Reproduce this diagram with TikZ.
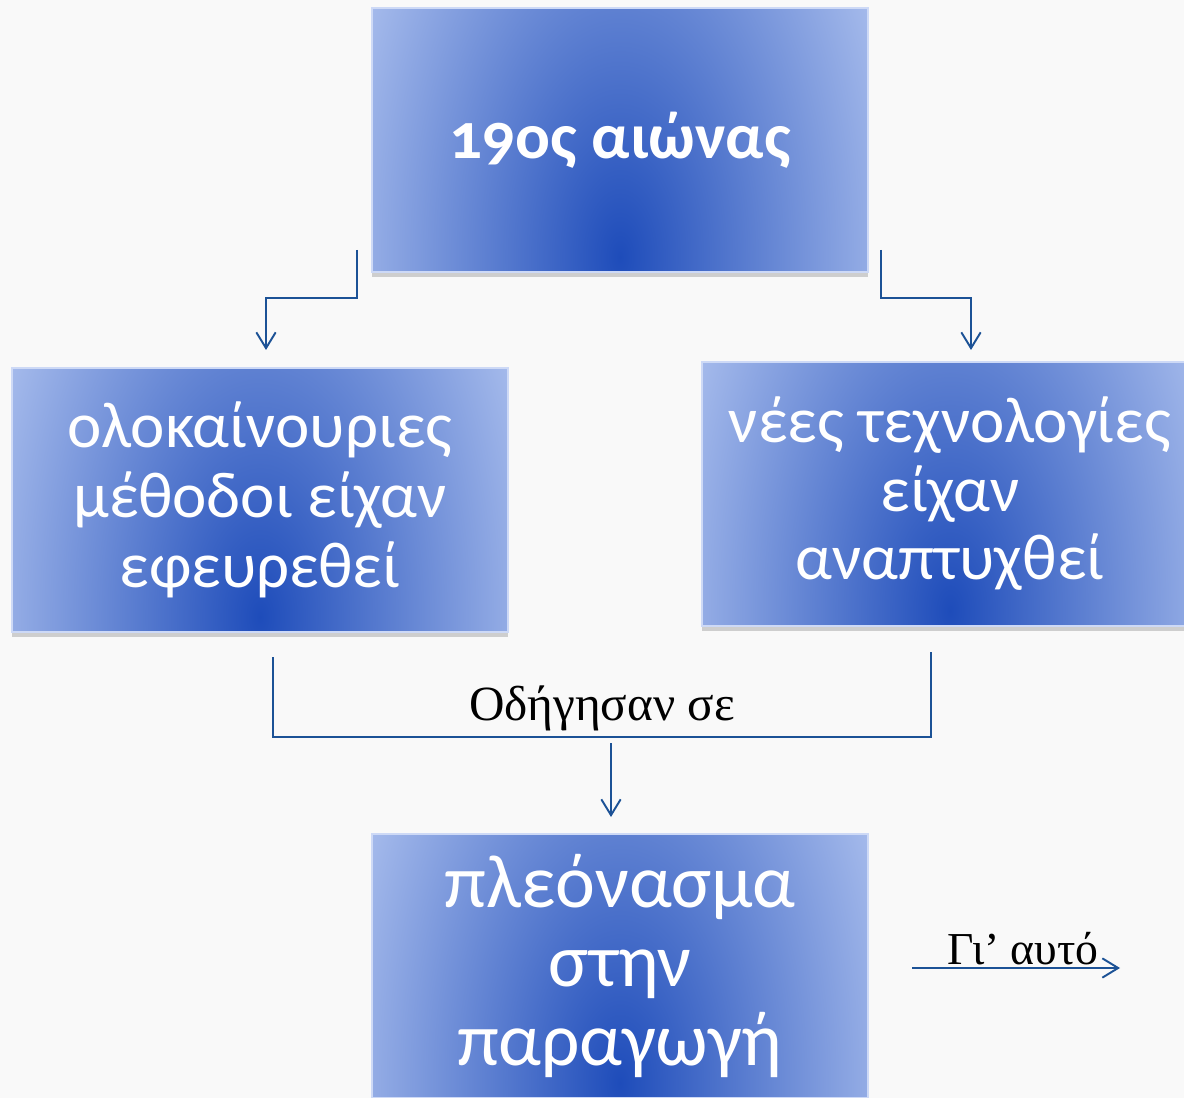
\documentclass[tikz,border=0pt]{standalone}
\usepackage{fontspec}
\setmainfont{Carlito}[Numbers=OldStyle]
\newfontfamily\lblfont{Liberation Serif}
\usetikzlibrary{shadows,arrows.meta}

\definecolor{boxdark}{RGB}{30,76,186}
\definecolor{boxlight}{RGB}{172,192,238}
\definecolor{boxedge}{RGB}{205,217,246}
\definecolor{linkblue}{RGB}{28,82,150}
\definecolor{paper}{RGB}{249,249,249}

\tikzset{
  stagebox/.style={rectangle, draw=boxedge, line width=0.8pt, fill=boxlight,
    minimum width=9.92cm, minimum height=5.28cm, align=center, text=white,
    drop shadow={shadow xshift=0pt, shadow yshift=-3pt, opacity=0.35},
    path picture={\shade[inner color=boxdark, outer color=boxlight]
      ([yshift=0.3cm]path picture bounding box.south) ellipse (6cm and 11cm);}},
  link/.style={draw=linkblue, line width=1.1pt},
  linkarrow/.style={link, -{Straight Barb[length=9pt,width=11pt]}},
  lbl/.style={font=\lblfont\fontsize{28}{32}\selectfont, text=black}
}

\begin{document}
\begin{tikzpicture}[x=0.02cm, y=-0.02cm]
    \fill[paper] (0,0) rectangle (1184,1098);
    \useasboundingbox (0,0) rectangle (1184,1098);

    % boxes
    \node[stagebox, font=\bfseries\fontsize{37}{44}\selectfont] (century) at (620,140) {19ος αιώνας};
    \node[stagebox, font=\fontsize{37}{40}\selectfont] (methods) at (260,500) {ολοκαίνουριες\\μέθοδοι είχαν\\εφευρεθεί};
    \node[stagebox, font=\fontsize{37}{39}\selectfont] (techno) at (950,494) {νέες τεχνολογίες\\είχαν\\αναπτυχθεί};
    \node[stagebox, font=\fontsize{43}{45}\selectfont] (surplus) at (620,966) {πλεόνασμα\\στην\\παραγωγή};

    % connector end points
    \coordinate (tl) at (357,250);
    \coordinate (tla) at (266,350);
    \coordinate (tr) at (881,250);
    \coordinate (tra) at (971,350);
    \coordinate (ml) at (273,657);
    \coordinate (mr) at (931,652);
    \coordinate (mj) at (602,737);
    \coordinate (ds) at (611,743);
    \coordinate (de) at (611,817);
    \coordinate (gs) at (912,968);
    \coordinate (ge) at (1120,968);

    \draw[linkarrow] (tl) -- ++(0,48) -| (tla);
    \draw[linkarrow] (tr) -- ++(0,48) -| (tra);
    \draw[link] (ml) |- (mj) -| (mr);
    \node[lbl, above, inner sep=3pt] (ledto) at (mj) {Οδήγησαν σε};
    \draw[linkarrow] (ds) -- (de);
    \draw[linkarrow] (gs) -- (ge) node[lbl, font=\lblfont\fontsize{26}{30}\selectfont, midway, above, xshift=4pt, inner sep=1pt] (sothat) {Γι’ αυτό};
\end{tikzpicture}
\end{document}
